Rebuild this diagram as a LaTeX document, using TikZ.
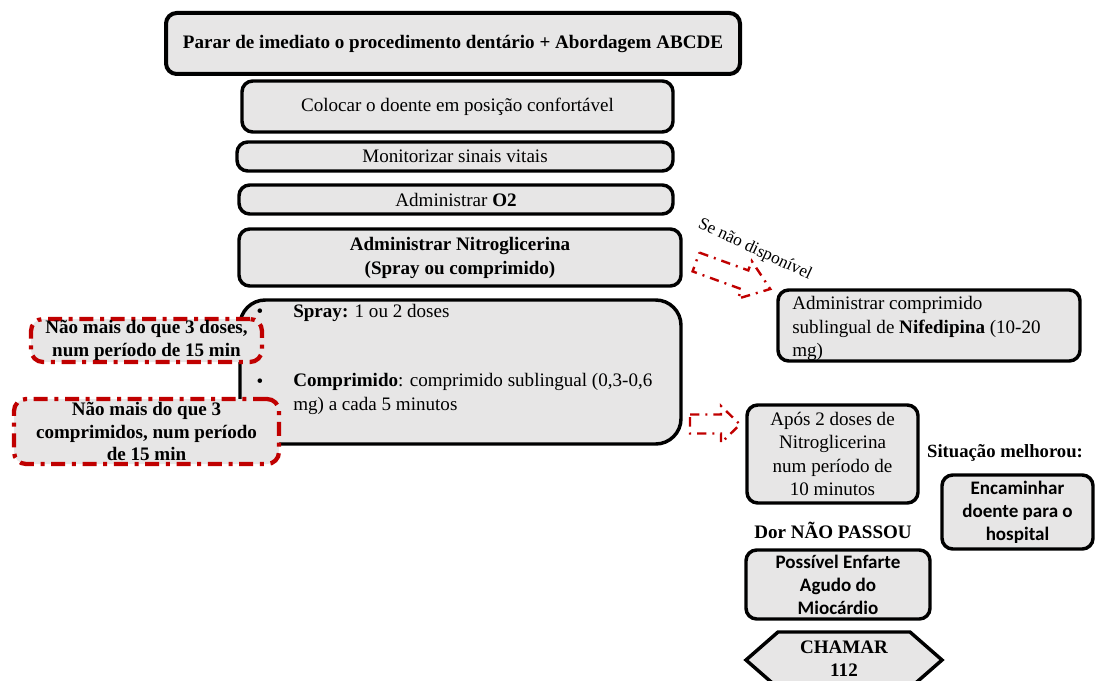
\documentclass[tikz,border=0pt]{standalone}
\usepackage{fontspec}
\setmainfont{Liberation Serif}
\newfontfamily\calfont{Carlito}
\definecolor{boxgray}{HTML}{E7E6E6}
\definecolor{alertred}{HTML}{C00000}
\begin{document}
\begin{tikzpicture}[x=0.75pt,y=-0.75pt,
  sz/.style 2 args={minimum width=#1*0.75pt, minimum height=#2*0.75pt},
  box/.style={draw=black, line width=2.6pt, fill=boxgray, rounded corners=8pt,
    align=center, inner sep=0pt, font=\fontsize{14.3}{17.6}\selectfont},
  redbox/.style={draw=alertred, line width=3.2pt, fill=boxgray, rounded corners=9pt,
    dash pattern=on 10.5pt off 5pt on 3pt off 5pt,
    align=center, inner sep=0pt, font=\fontsize{14.3}{16.9}\selectfont\bfseries},
  redarrow/.style={draw=alertred, line width=1.8pt,
    dash pattern=on 7pt off 4.5pt on 1.5pt off 4.5pt},
  txt/.style={inner sep=0pt, font=\fontsize{14.3}{17.6}\selectfont},
  calbox/.style={box, font=\fontsize{14.3}{17.3}\selectfont\calfont\bfseries}]
\useasboundingbox (0,0) rectangle (1096,681);
\clip (0,0) rectangle (1096,681);

% main column
\node[box, sz={574}{61}, line width=3pt, font=\fontsize{14.3}{17.6}\selectfont\bfseries]
  (stop) at (453,43.5) {Parar de imediato o procedimento dentário + Abordagem ABCDE};
\node[box, sz={431}{51}] (pos) at (457.5,106.5) {Colocar o doente em posição confortável};
\node[box, sz={436}{29}] (mon) at (455,156.5) {Monitorizar sinais vitais};
\node[box, sz={434}{29}] (oxy) at (456,199.5) {Administrar \textbf{O2}};
\node[box, sz={442}{57}, font=\fontsize{14.3}{18}\selectfont\bfseries] (nitro) at (460,257.5)
  {Administrar Nitroglicerina\\(Spray ou comprimido)};

% dosage box with bullet list
\node[box, sz={441}{144}, rounded corners=19pt] (dose) at (460.5,372) {};
\node[txt] (b1) at (260,313) {•};
\node[txt, anchor=west] (spray) at (293,313) {\textbf{Spray:} 1 ou 2 doses};
\node[txt] (b2) at (260,383) {•};
\node[txt, anchor=north west, align=left] (comp) at (293,373.5)
  {\textbf{Comprimido}: comprimido sublingual (0,3-0,6\\mg) a cada 5 minutos};

% dose limits
\node[redbox, sz={231}{43}] (lim1) at (146.5,340.5) {Não mais do que 3 doses,\\num período de 15 min};
\node[redbox, sz={265}{65}] (lim2) at (146.5,431.5) {Não mais do que 3\\comprimidos, num período\\de 15 min};

% alternative drug
\draw[redarrow, shift={(696,262)}, rotate=-20]
  (0,-10) -- (52,-10) -- (52,-20) -- (79,0) -- (52,20) -- (52,10) -- (0,10) -- cycle;
\node[txt, font=\fontsize{13}{15}\selectfont, rotate=-25] (notav) at (755,250) {Se não disponível};
\node[box, sz={302}{71}] (nife) at (929,325.5) {};
\node[txt, anchor=north west, align=left] (nifetext) at (792,296.5)
  {Administrar comprimido\\sublingual de \textbf{Nifedipina} (10-20\\mg)};

% reassessment
\draw[redarrow] (690,414.5) -- (721,414.5) -- (721,406) -- (740,424.5) -- (721,443) -- (721,433.5) -- (690,433.5) -- cycle;
\node[box, sz={171}{98}, font=\fontsize{14.3}{17.5}\selectfont] (after) at (832.5,454)
  {Após 2 doses de\\Nitroglicerina\\num período de\\10 minutos};
\node[txt, font=\fontsize{14}{17.6}\selectfont\bfseries] (better) at (1005,453) {Situação melhorou:};
\node[calbox, sz={151}{74}] (hosp) at (1017.5,512) {Encaminhar\\doente para o\\hospital};
\node[txt, font=\fontsize{14.3}{17.6}\selectfont\bfseries] (pain) at (833,530) {Dor NÃO PASSOU};
\node[calbox, sz={184}{69}] (enf) at (838,584.5) {Possível Enfarte\\Agudo do\\Miocárdio};

% emergency call
\draw[line width=2.6pt, fill=boxgray, line join=miter]
  (746,660) -- (778,632) -- (910,632) -- (942,660) -- (910,688) -- (778,688) -- cycle;
\node[txt, align=center, font=\fontsize{14.3}{17.3}\selectfont\bfseries] (call) at (844,658.5) {CHAMAR\\112};
\end{tikzpicture}
\end{document}
